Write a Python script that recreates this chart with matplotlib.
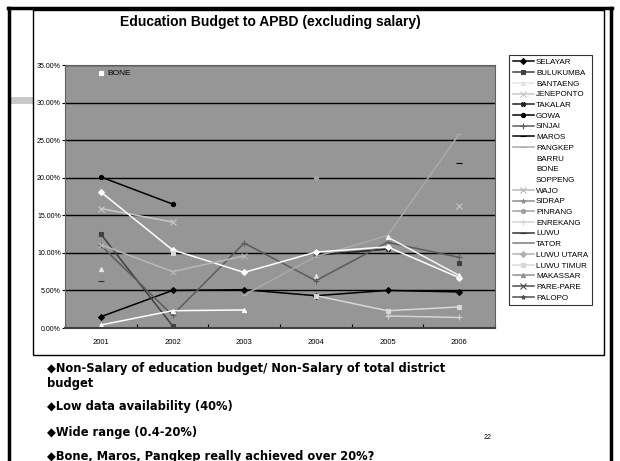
import numpy as np
import matplotlib.pyplot as plt
from matplotlib.patches import Rectangle
from matplotlib.lines import Line2D

nan = np.nan
years = ['2001', '2002', '2003', '2004', '2005', '2006']
yticks = [0, 5, 10, 15, 20, 25, 30, 35]

# percentage of non-salary education budget
districts = ['SELAYAR', 'BULUKUMBA', 'BANTAENG', 'JENEPONTO', 'TAKALAR', 'GOWA',
             'SINJAI', 'MAROS', 'PANGKEP', 'BARRU', 'BONE', 'SOPPENG', 'WAJO',
             'SIDRAP', 'PINRANG', 'ENREKANG', 'LUWU', 'TATOR', 'LUWU UTARA',
             'LUWU TIMUR', 'MAKASSAR', 'PARE-PARE', 'PALOPO']
selayar = [1.5, 5.0, 5.1, 4.3, 5.0, 4.8]
bulukumba = [12.5, 0.3, nan, nan, nan, 8.6]
bantaeng = [7.8, nan, nan, 6.9, nan, nan]
jeneponto = [15.9, 14.1, nan, nan, nan, 16.2]
takalar = [nan, nan, nan, 9.7, 10.5, nan]
gowa = [20.1, 16.5, nan, nan, nan, nan]
sinjai = [11.0, 1.7, 11.3, 6.3, 11.4, 9.4]
maros = [nan, nan, nan, nan, nan, 22.0]
pangkep = [nan, nan, 4.4, 9.5, 12.3, 25.8]
barru = [18.1, 10.4, 7.4, 10.1, 10.8, 6.7]
bone = [33.9, nan, nan, nan, nan, nan]
soppeng = [0.4, 2.3, 2.4, nan, nan, nan]
wajo = [11.1, 7.5, 9.6, nan, nan, nan]
sidrap = [nan, nan, nan, nan, nan, nan]
pinrang = [nan, nan, nan, 20.0, nan, nan]
enrekang = [nan, nan, nan, nan, 1.6, 1.4]
luwu = [6.2, nan, nan, nan, nan, nan]
tator = [nan, nan, nan, nan, nan, nan]
luwu_utara = [nan, nan, nan, nan, nan, nan]
luwu_timur = [nan, 10.0, nan, 4.3, 2.3, 2.8]
makassar = [nan, nan, nan, nan, 12.1, 7.0]
pare_pare = [nan, nan, nan, nan, nan, nan]
palopo = [nan, nan, nan, nan, nan, nan]

values = [selayar, bulukumba, bantaeng, jeneponto, takalar, gowa, sinjai, maros,
          pangkep, barru, bone, soppeng, wajo, sidrap, pinrang, enrekang, luwu,
          tator, luwu_utara, luwu_timur, makassar, pare_pare, palopo]

# (colour, marker) per district, in legend order
styles = [('#000000', 'D'), ('#404040', 's'), ('#e4e4e4', '^'), ('#c8c8c8', 'x'),
          ('#202020', 'X'), ('#000000', 'o'), ('#5c5c5c', '+'), ('#000000', '_'),
          ('#aaaaaa', '_'), ('#ffffff', 'D'), ('#ffffff', 's'), ('#ffffff', '^'),
          ('#b8b8b8', 'x'), ('#8c8c8c', '*'), ('#a0a0a0', 'o'), ('#d4d4d4', '+'),
          ('#303030', '_'), ('#7c7c7c', ''), ('#b0b0b0', 'D'), ('#d8d8d8', 's'),
          ('#909090', '^'), ('#505050', 'x'), ('#505050', '*')]
# MAKASSAR points drawn near-white in the plot
plot_colour = {'MAKASSAR': '#f4f4f4'}

fig = plt.figure(figsize=(6.2, 4.61), dpi=100)
W, H = 620, 461


def fx(x):
    return x / W


def fy(y):
    return 1 - y / H


# slide frame
fig.add_artist(Line2D([fx(9), fx(9)], [0, fy(8)], color='black', lw=2.5))
fig.add_artist(Line2D([fx(8), fx(612)], [fy(8), fy(8)], color='black', lw=2.5))
fig.add_artist(Line2D([fx(611), fx(611)], [0, fy(8)], color='black', lw=2.5))
fig.add_artist(Rectangle((fx(11), fy(104)), fx(22), 7 / H, color='#c8c8c8', lw=0))
# chart box
fig.add_artist(Rectangle((fx(33), fy(355)), fx(604 - 33), (355 - 10) / H,
                         fill=False, ec='black', lw=1))

ax = fig.add_axes([fx(65), fy(328), fx(495 - 65), (328 - 65) / H])
ax.set_facecolor('#969696')
x = np.arange(1, 7)
handles = []
for name, vals, (col, mk) in zip(districts, values, styles):
    ms = 3 if mk not in ('_', '+', 'x') else 4
    ax.plot(x, vals, color=plot_colour.get(name, col), marker=mk, ms=ms, mew=0.8, lw=1.1)
    handles.append(Line2D([], [], color=col, marker=mk, ms=ms, mew=0.8, lw=1.1, label=name))

ax.annotate('BONE', (1, bone[0]), xytext=(5, 0), textcoords='offset points',
            fontsize=6, va='center', family='Liberation Sans')

ax.set_xlim(0.5, 6.5)
ax.set_ylim(0, 35)
ax.set_yticks(yticks)
ax.set_yticklabels(['%.2f%%' % v for v in yticks], fontsize=5, family='Liberation Sans')
ax.yaxis.grid(True, color='black', lw=1)
ax.set_axisbelow(True)
ax.set_xticks(np.arange(0.5, 7, 1))
ax.set_xticklabels([])
ax.set_xticks(x, minor=True)
ax.set_xticklabels(years, minor=True, fontsize=5.5, family='Liberation Sans')
ax.tick_params(axis='x', which='major', direction='in', length=3, color='black')
ax.tick_params(axis='x', which='minor', length=0, pad=8)
ax.tick_params(axis='y', length=2, pad=1)
for s in ax.spines.values():
    s.set_color('#606060')
ax.spines['bottom'].set_color('#404040')
ax.spines['bottom'].set_linewidth(1.5)

fig.text(fx(270), fy(22), 'Education Budget to APBD (excluding salary)',
         ha='center', va='center', fontsize=10, fontweight='bold', family='Liberation Sans')

leg = fig.legend(handles=handles, loc='upper left', bbox_to_anchor=(fx(505), fy(51)),
                 labelspacing=0.38, handlelength=2.6, handletextpad=0.3,
                 borderpad=0.45, frameon=True, fancybox=False, edgecolor='black',
                 prop={'family': 'Liberation Sans', 'size': 5.8})
leg.get_frame().set_linewidth(0.8)

bullets = [(368, '\u25c6Non-Salary of education budget/ Non-Salary of total district'),
           (384, 'budget'),
           (406, '\u25c6Low data availability (40%)'),
           (432, '\u25c6Wide range (0.4-20%)'),
           (456, '\u25c6Bone, Maros, Pangkep really achieved over 20%?')]
for yy, txt in bullets:
    fig.text(fx(47), fy(yy), txt, ha='left', va='center', fontsize=8.3,
             fontweight='bold', family='DejaVu Sans')
fig.text(fx(488), fy(437), '22', ha='center', va='center', fontsize=5,
         family='Liberation Sans')

fig.savefig('out.png', dpi=100)
